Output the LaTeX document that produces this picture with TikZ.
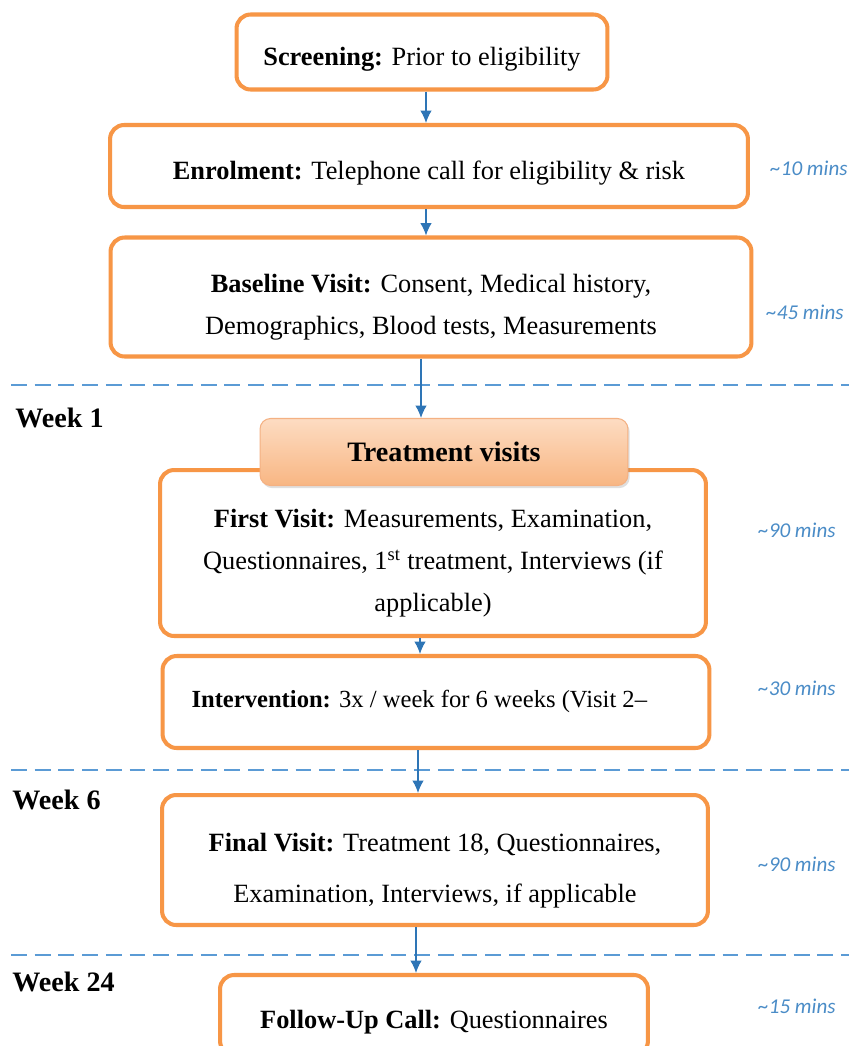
\documentclass[tikz,border=0pt]{standalone}
\usepackage{fontspec}
\setmainfont{Liberation Serif}
\newfontfamily\minsfont{Carlito}
\usetikzlibrary{arrows.meta}
\usetikzlibrary{positioning,shadows}

\definecolor{boxorange}{HTML}{F79646}
\definecolor{hdrtop}{HTML}{FDDCC2}
\definecolor{hdrbot}{HTML}{F8B683}
\definecolor{hdrline}{HTML}{F4B183}
\definecolor{arrowblue}{HTML}{2E75B6}
\definecolor{dashblue}{HTML}{5B9BD5}
\definecolor{minsblue}{HTML}{4A8CC7}

\newcommand{\topgap}{\rule{0pt}{22pt}}

\begin{document}
\begin{tikzpicture}
[x=0.02cm,y=-0.02cm,>={Latex[length=7pt,width=6.5pt]},
box/.style={draw=boxorange,line width=2.3pt,rounded corners=8pt,fill=white,align=center,font=\fontsize{15}{24}\selectfont,execute at begin node={\rule{0pt}{19pt}}},
header/.style={draw=hdrline,line width=0.6pt,rounded corners=6pt,top color=hdrtop,bottom color=hdrbot,drop shadow={opacity=0.25,shadow xshift=1pt,shadow yshift=-1.5pt},font=\bfseries\fontsize{16}{19}\selectfont},
week/.style={anchor=west,inner sep=0pt,font=\bfseries\fontsize{16}{19}\selectfont},
mins/.style={anchor=west,inner sep=0pt,text=minsblue,font=\minsfont\itshape\fontsize{12}{14}\selectfont}]

\clip (0,0) rectangle (849,1046);
\fill[white] (0,0) rectangle (849,1046);

% week separators
\foreach \y in {385,770,955}
\draw[dashblue,line width=0.8pt,dash pattern=on 9pt off 4.5pt] (11,\y) -- (849,\y);

\node[box,minimum width=7.42cm,minimum height=1.5cm] (a) at (422,52) {\textbf{Screening:} Prior to eligibility};
\node[box,minimum width=12.76cm,minimum height=1.64cm] (b) at (429,166) {\textbf{Enrolment:} Telephone call for eligibility \& risk};
\node[box,minimum width=12.82cm,minimum height=2.38cm] (c) at (431,297) {\topgap\textbf{Baseline Visit:} Consent, Medical history,\\ Demographics, Blood tests, Measurements};
\node[box,minimum width=10.92cm,minimum height=3.32cm] (d) at (433,553) {\topgap\textbf{First Visit:} Measurements, Examination,\\ Questionnaires, 1\textsuperscript{st} treatment, Interviews (if\\ applicable)};
\node[header,minimum width=7.36cm,minimum height=1.34cm] (h) at (444,452) {Treatment visits};
\node[box,text width=9.78cm,inner xsep=0.58cm,minimum height=1.84cm,align=flush left,font=\fontsize{14}{24}\selectfont,execute at begin node={}] (e) at (436,702) {\textbf{Intervention:} 3x / week for 6 weeks (Visit 2--\rule[-12.5pt]{0pt}{1pt}};
\node[box,minimum width=10.92cm,minimum height=2.6cm,font=\fontsize{15}{29}\selectfont] (f) at (435,860) {\topgap\textbf{Final Visit:} Treatment 18, Questionnaires,\\ Examination, Interviews, if applicable};
\node[box,minimum width=8.56cm,minimum height=1.6cm] (g) at (434,1015) {\textbf{Follow-Up Call:} Questionnaires};

\node[week] (w1) at (15,418) {Week 1};
\node[week] (w6) at (12,800) {Week 6};
\node[week] (w24) at (12,982) {Week 24};

\node[mins] (tb) at (770,168) {\textasciitilde 10 mins};
\node[mins] (tc) at (766,312) {\textasciitilde 45 mins};
\node[mins] (td) at (758,530) {\textasciitilde 90 mins};
\node[mins] (te) at (758,688) {\textasciitilde 30 mins};
\node[mins] (tf) at (758,864) {\textasciitilde 90 mins};
\node[mins] (tg) at (758,1006) {\textasciitilde 15 mins};

\foreach \from/\to/\d in {a/b/4,b/c/-3,c/h/-10,d/e/-13,e/f/-18,f/g/-19}
\draw[->,arrowblue,line width=0.8pt] ([xshift=\d*0.02cm]\from.south) -- ([xshift=\d*0.02cm]\from.south |- \to.north);

\end{tikzpicture}
\end{document}
